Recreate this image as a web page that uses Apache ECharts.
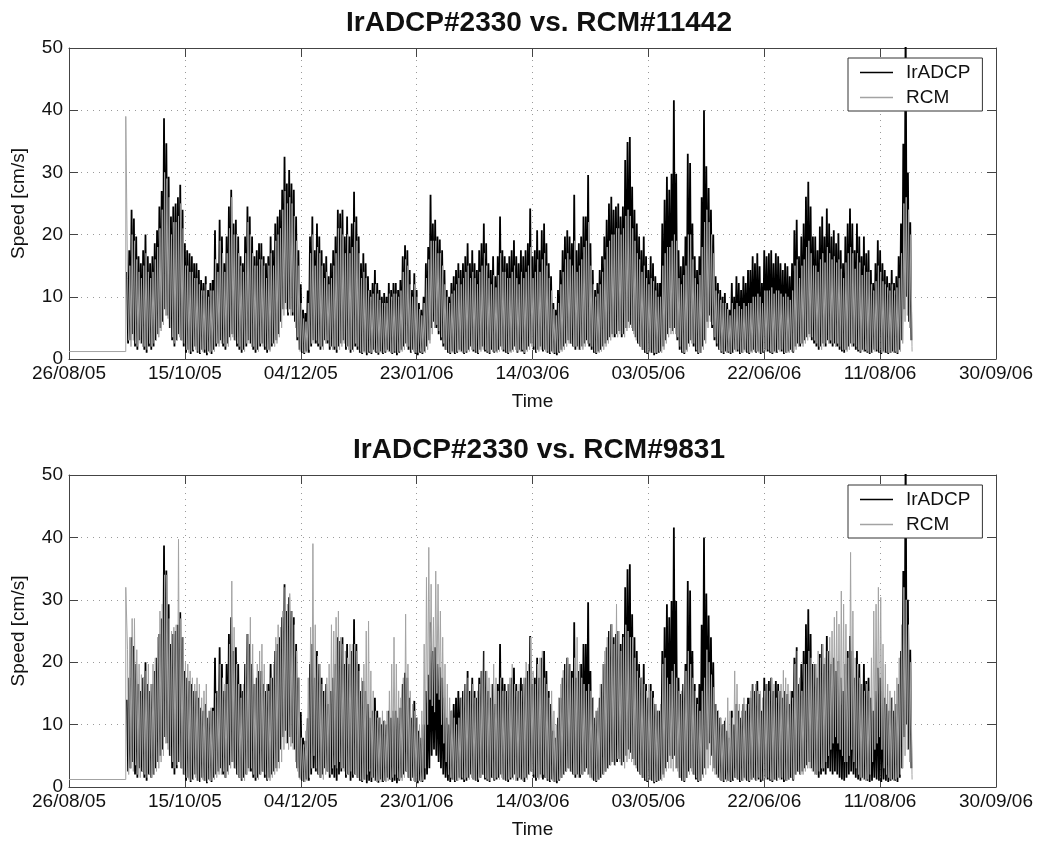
<!DOCTYPE html>
<html><head><meta charset="utf-8">
<script src="https://cdn.jsdelivr.net/npm/echarts@6/dist/echarts.min.js"></script>
<style>html,body{margin:0;padding:0;background:#fff}#c{width:1052px;height:841px}</style>
</head><body><div id="c"></div>
<script>
// x axis: days since 26/08/05, ticks every 50 days
const tickLabels = ['26/08/05','15/10/05','04/12/05','23/01/06','14/03/06','03/05/06','22/06/06','11/08/06','30/09/06'];
const titles = ['IrADCP#2330 vs. RCM#11442', 'IrADCP#2330 vs. RCM#9831'];
const seriesNames = ['IrADCP', 'RCM'];
const firstDay = 25;          // day of the first daily envelope value
const startDay = 24.5;        // RCM record starts
const endDay = 363.8;         // RCM record ends
const rcmPreValue = 1.2;      // flat value before deployment
const rcm1StartSpike = 39;
const rcm2StartSpike = 32;
const rcmEndValue = 1.2;

// IrADCP daily high / low envelope (d25 .. d363)
const irHi = [
14,17.5,24,22.6,19.7,16.5,15.4,17.5,20,16.5,
15.4,16.5,18.6,20.7,24.5,27,38.7,34.7,29.3,22.9,
24.5,25,26,28,24,18.6,17.5,17,16.5,15.4,
15.4,14.3,12.7,12.2,13.3,11.1,12.2,12.7,20.7,15.4,
22.4,19.7,15.4,19.7,24.5,27.2,21.8,22.4,19.7,16.5,
15.4,19.7,24.5,22.9,19.7,16.5,17.5,18.6,18.6,16.5,
15.4,16.5,19.7,17.5,21.8,22.9,24,27.2,32.5,28.2,
30.4,28.2,27.2,22.9,17.5,12,7.9,7.4,11,19.7,
22.9,
17.5,21.8,19.7,17.5,15.4,16.5,13.3,15.4,17.5,19.7,
24,23.4,24,19.7,22.9,19.7,21.8,26.9,22.9,19.7,
15.4,17,15.4,13.3,11.1,12.2,14.3,12.2,11.1,10,
10.6,10,12.2,11.1,12.2,12.2,11.1,12.7,16.5,18.3,
17.5,14.3,11.1,13.8,11.1,9,7.9,10,15.4,18,
26.4,21.8,22.4,19.7,19.2,17.5,14.3,11.1,10,12.2,
13.3,14.3,15.4,14.3,15.4,16.5,18.6,15.4,17.5,15.4,
14.3,17.5,18.6,21.8,18.6,15.4,14.3,16.5,13.3,16.5,
22.9,17.5,16.5,15.4,
16.5,17.5,19.1,16.5,15.4,17.5,16.5,17.5,18.6,24.2,
16.5,17.5,20.7,17.5,20.7,21.8,18.6,15.4,13.3,9,
7.9,11.1,14.3,17.5,19.7,20.7,19.7,18.6,26.4,17.5,
18.6,19.7,22.9,22.9,29.6,18.6,14.3,11.1,12.2,14.3,
16.5,19.7,22.4,25,26.1,24,24.5,25,22.9,24.5,
32,34.9,35.7,27.7,24,21.8,19.7,17.5,19.7,16.5,
14.3,16.5,15.4,13.3,12.2,12.2,21.8,25.6,29.3,27.2,
29.8,41.6,29.8,17.5,14.9,16.5,19.7,33,31.5,21.8,
16.5,14.3,16.5,26,40,
31,27.5,24,20,
13.3,12.2,11.1,10,10.6,9,7.9,12.2,10,13.3,
12.2,11.1,13.3,12.2,14.3,14.3,16.5,15.4,17,14.9,
12.2,17.5,16.5,17,17.5,15.4,17,16.5,15.4,14.3,
15.4,14.9,13.3,15.4,20.7,22.4,16.5,19.7,21.8,26.1,
28.5,24.5,19.7,19.7,17.5,21.3,22.9,19.7,24.2,21.8,
19.7,20.7,18.6,20.2,17.5,15.4,19.7,21.8,24.2,21.8,
17.5,21.8,19.7,16.5,19.7,17,17.5,14.3,12.2,15.4,
19.1,17.5,15.4,14.3,13.3,12.2,14.3,12.2,13.3,16.5,
21.8,34.6,55,30,22];
const irLo = [
2.5,3,4,2,1.5,3,2.5,1.5,1,2,
1.5,2,3,4,5,6,8,7,5,3,
2,3,4,3,2,1,1.5,0.8,1.2,2,
1,0.8,1.5,1,0.6,1.2,0.8,1.5,2,2.5,
3,2,1.5,2.5,3.5,4,3,2,1.5,1,
1.5,2,3,2.5,1.5,1,1.5,2,2.5,1.5,
1,1.5,2,2.5,3,4,6,8,9,7,
8,7,6,3,1.5,1,0.8,1.2,1,2,
3,2.5,2,1.5,2,3,2.5,1.5,2,1.5,
1,2,2.5,3,1.5,2,1,1.5,2,1.5,
1,0.8,1.2,0.6,1,0.8,1.5,1,0.7,1.2,
0.8,1,1.5,1.2,0.8,1,0.6,1,1.5,2,
2.5,1.5,1,1.5,0.8,0.6,1,0.8,1.2,2,
3,5,6,5,4,3,2,1.5,1,0.8,
1.2,0.8,1,1.5,1.2,0.8,1,1.5,2,1.2,
1,0.8,1.5,2,1.2,1,0.8,1.5,1,1.2,
1.5,2,1.2,1,0.8,1.2,1.5,2,1,1.5,
1.2,0.8,1.5,2,2.5,1.5,1,1.5,2,1.2,
1.5,1,0.8,1.2,0.8,0.6,1,1.5,2,2.5,
3,2.5,2,1.5,2,1.5,2,2.5,3,2,
1.5,1,0.8,1.2,1.5,2,2.5,3,3.5,4,
3.5,4,4.5,3.5,4,5,6,5.5,4.5,3.5,
2.5,2,1.5,1,0.8,1.2,1,0.6,0.8,1,
1.2,2,3,4,5,4.5,5,3,1.5,1,
0.8,1.5,2.5,3,2,1.2,0.8,1,2,3,
6,7,5,3,2,1.5,1,0.8,1.2,1,
0.8,1,1.5,1.2,0.8,1,1.5,1,0.8,1.2,
1.5,1,1.2,0.8,1,1.5,1.2,1,0.8,1.2,
1,1.5,1.2,0.8,1,1.2,1.5,1,2,2.5,
2,2.5,3,3.5,4,3,2.5,2,1.5,2,
2.5,2,3,2.5,2,2.5,2,1.5,1.2,1,
1.5,2,2.5,2,1.5,1.2,1,1.5,1.2,1,
0.8,1,1.5,1.2,1,0.8,1.2,1,0.8,1,
1.2,1,0.8,1.5,3,8,10,6,3];

// RCM#11442 daily high / low envelope
const rcm1Hi = [
13,15,20,19,16,14,13,15,17,14,
13,14,16,18,21,24,30,29,26,20,
22,22,23,25,21,15,15,14,14,13,
13,12,11,11,12,10,11,11,16,14,
19,17,14,17,21,26,20,20,17,15,
14,17,22,20,17,15,15,16,16,15,
13,15,17,15,19,20,21,24,27,25,
26,25,23,19,15,9,6.5,6,9,17,
20,
15,18,17,15,13,14,12,13,15,17,
21,21,20,17,20,17,18,22,19,17,
13,14,13,11,10,10.5,12,10.5,9.5,9,
9,9,10.5,10,10.5,10.5,10,11,14,16,
15,12,10,12,10,8,7,9,13,16,
19,19,19,17,17,15,12,10,9,10.5,
11,12,13,12,13,14,15,13,14,13,
12,14,15,17,15,13,12,13.5,11.5,13.5,
17,14,14,13,
13,14,15,13,12,14,13,14,15,18,
13,14,16,14,16,17,15,13,11,8,
7,9,12,14,16,17,16,15,19,14,
15,16,18,19,22,15,12,10,10.5,12,
14,16,18,19,20,20,21,21,20,21,
23,24,23,21,19,17,16,14,15,13,
12,13,12.5,11,10,10,15,17,18,18,
19,20,19,13,12,13.5,15,20,20,16,
13,12,13.5,18,22,
24,22,20,17,
11,10.5,9.5,9,9,8,7,9,8,9,
8.5,8,9,8.5,9,9,10,10,10.5,10,
9,11,11,11,11.5,10.5,11,11,10.5,10,
10.5,10,9.5,11,15,16,13,15,16,18,
19,17,15,15,14,16,17,15.5,18,17,
16,16.5,15.5,16,14.5,13,15.5,17,18,17,
14.5,17,15.5,13.5,15,14,14,12,11,12.5,
15,14,12.5,12,11.5,11,12,11,11.5,13,
17,25,26,24,20];
const rcm1Lo = [
3,2,3,2.5,2,2.5,2,2,1.5,2.5,
2,2.5,3,3.5,4.5,5.5,7,6.5,5,3.5,
2.5,3,3.5,3,2.5,1.5,1,1.2,1.5,1.5,
1.2,1,1.2,1.5,1,1,1.2,1.2,2.5,2,
2.5,2.5,2,2,3,3.5,3,2.5,2,1.5,
1.2,2.5,2.5,2,2,1.5,1.2,2.5,2,2,
1.5,1.2,2.5,2,2.5,3.5,5,7,8,7.5,
7,7.5,5,3.5,1.2,1.2,1,1,1.5,2.5,
2.5,3,2.5,2,1.5,2.5,3,2,1.5,2,
1.5,1.5,2,2.5,2,1.5,1.5,1.2,2.5,2,
1.2,1,1,1,1.2,1,1.2,1.2,1,1,
1,1.2,1.2,1,1,1.2,1,1.2,1.2,1.5,
2,2,1.2,1.2,1,1,1.2,1,1,1.5,
2.5,4,5,5.5,4.5,3.5,2.5,1.5,1.2,1,
1,1,1.2,1.2,1,1,1.2,1.2,1.5,1.5,
1.2,1,1.2,1.5,1.5,1.2,1,1.2,1.2,1,
1.2,1.5,1.5,1.2,1,1,1.2,1.5,1.2,1.2,
1.5,1,1.2,1.5,2,2,1.2,1.2,1.5,1.5,
1.2,1.2,1,1,1,1,1.2,1.2,1.5,2,
2.5,2.5,2,2,1.5,1.5,1.5,2,2.5,2.5,
2,1.2,1,1,1.2,1.5,2,2.5,3,3.5,
4,3.5,4,4,3.5,4.5,5,5,4,3,
2.5,2,1.5,1.2,1,1,1,1,1,1.2,
1,1.5,2.5,3.5,4,4,4,3.5,2,1.2,
1,1.2,2,2.5,2.5,1.5,1,1,1.5,2.5,
5,6,5.5,3.5,2.5,1.5,1.2,1,1,1.2,
1,1,1.2,1.5,1,1,1.2,1.2,1,1,
1.2,1.2,1,1,1.2,1.2,1.5,1.2,1,1,
1.2,1.2,1.5,1,1,1,1.2,1.2,1.5,2,
2.5,2,2.5,3,3.5,3.5,3,2.5,2,1.5,
2,2.5,2.5,3,2.5,2,2.5,2,1.5,1.5,
1.2,1.5,2,2.5,2,1.5,1.2,1.2,1.5,1.2,
1,1,1.2,1.5,1.2,1,1,1.2,1,1,
1,1.2,1,1.2,2.5,6,7,5,2];

// RCM#9831 daily high / low envelope
const rcm2Hi = [
22,24,27,27,22,19.7,18,17.5,18.6,19.7,
16.5,19.7,20.7,24,28.2,29.3,34,34,27,25,
25.6,26,39.7,27,24,20,19.7,18.6,17.5,16.5,
17.5,16.5,14.3,15.4,16.5,12.2,12.7,12.2,15,15.4,
19.7,17.5,16.5,16.5,22.9,33,25.6,19.7,16.5,14.3,
16.5,19.7,24.5,27.2,22.9,16.5,19.7,21.8,22.9,19.7,
16.5,15.4,17.5,19.7,24,26,25.6,28.2,32,29.3,
31,28.2,26,21.8,17.5,7.9,6.8,9,17.5,25.6,
39,
26,21,19.7,16.5,15.4,17.5,19.7,26,25,27.2,
28.2,24,22.9,21.8,20.7,22.9,22.9,22.9,21.8,18.6,
17.5,19.7,25,26.6,18.6,15.4,12.2,11.1,11.1,12.2,
10.6,12.2,15.4,19.7,24,19.7,15.4,14.3,17.5,27.7,
19.7,15.4,13.3,12.2,11.1,10,12.2,22.9,33.6,38.4,
32.5,27.2,34.6,32.5,28.2,24,19.7,16.5,14.3,12.2,
11.1,10,11.1,14.3,15.4,16.5,17.5,15.4,16.5,14.3,
15.4,16.5,18.6,21.8,18.6,17.5,16.5,19.7,17.5,15.4,
17.5,15.4,15.4,16.5,
17.5,19.7,16.5,15.4,16.5,15.4,17.5,20,19.7,24,
18.6,16.5,19.7,20.7,21.8,17.5,16.5,14.3,15.4,12.2,
10,14.3,16.5,18.7,19.7,20.7,19.7,17.5,20.7,24,
19.7,17.5,16.5,15.4,16.5,15.4,14.3,12.2,12.7,16.5,
19.7,21.8,24,25,26.1,22.9,29.3,25,21.8,24,
26,25,24,24,20.7,18.6,17.5,17.5,16.5,15.4,
16.5,15.4,14.3,13.3,12.2,13.3,19.7,20.7,17.5,16.5,
18.6,19.7,17.5,15.4,15.4,16.5,18.6,21.8,19.7,17.5,
15.4,13.3,12.2,15.4,17.5,
22,20,18,16,
13.3,12.2,11.1,10,11.1,14.3,12.2,11.1,18.6,16.5,
13.3,12.2,14.3,13.3,13.3,15.4,16.5,16.5,15.4,15.4,
14.3,15.4,16.5,15.4,17.5,16.5,14.3,15.4,16.5,18.7,
17.5,16.5,15.4,14.3,19.7,21.8,17.5,15.4,19.7,19.7,
21.8,20.7,19.7,19.7,21.8,20.7,22.9,20.7,21.8,24,
25,27.2,28.2,26.1,31.4,29.3,26.1,20.7,37.6,28.2,
20.7,19.7,17.5,16.5,15.4,16.5,15.4,20.7,28.2,29.3,
32,30.4,22.9,19.7,16.5,15.4,14.3,15.4,17.5,20.7,
26,32,30,26,20];
const rcm2Lo = [
2,3,2.5,3.5,2,1.5,2.5,2,1.5,2,
1.5,2,2.5,3,4,5,7,6,5,4,
3,3.5,4,3,2,1.5,1.2,1,1.2,1.5,
1,0.8,1.2,1,0.8,1,1,1.2,1.5,2,
2,2.5,1.5,2,3,4,3,2,1.5,1.2,
1,2,2.5,3,2,1.5,1.2,2,2.5,2,
1.2,1,1.5,2,2.5,3,4,6,7,6,
6.5,6,4,2.5,1.2,1,0.8,1,1.5,3,
5,3,2,1.5,1.2,2,2.5,2,3,3.5,
3,4,3,2.5,2,2,2.5,2,2,1.5,
1.2,1,1.2,2,2.5,1.5,1,0.8,1,0.8,
1,0.8,1,1.2,1.5,2,1.5,1.2,1,1.5,
2.5,1.5,1.2,1,0.8,1,0.8,1,3,10,
14,13,12,15,14,10,7,4,2,1.5,
1.2,1,1,1.2,1.5,1.2,1.5,1.2,1.5,1.2,
1,1.2,1.5,2,1.5,1.2,1,1.5,1.2,1.5,
1.2,1.5,1.2,1,1.2,1.5,1.2,1,1.5,1.2,
1,1.5,1.2,2,2.5,2,1.5,1.2,1.5,2,
1.5,1.2,1,1,0.8,1,1.2,1.5,2,2.5,
3,2.5,2,2,1.5,2,2,2.5,2,1.5,
1.2,1,1,1.2,1.5,2,2.5,3,3.5,4,
3.5,4.5,4,3.5,3,4,4.5,4,3.5,3,
2.5,2,1.5,1.2,1,1.2,1,0.8,1,1,
1,1.5,2.5,3,3,2.5,3,2.5,1.5,1,
1,1.5,2,2.5,2,1.5,1,1,1.5,2,
3,3.5,2.5,2,1.5,1.2,1,1,0.8,1,
1,1.2,1.5,1.2,1,1,1.2,1,1,1.2,
1.2,1,1.5,1.2,1,1.2,1.5,1.2,1,1.2,
1,1.2,1.5,1.2,1,1.2,1.5,1.2,2,2.5,
2,2,2.5,3,3,2.5,2,2,2.5,3,
3,4,5,6,7,8,7,6,5,4,
4,5,6,4,3,2,1.5,1.2,1,1.2,
2,4,6,7,8,6,3,2,1.5,1.2,
1,1.2,1.5,2,3,5,6,4,2];

// ---- build series data from the arrays ----
function zig(hi, lo, phase) {
  const out = [];
  for (let i = 0; i < hi.length; i++) {
    const d = firstDay + i;
    out.push([d + phase, hi[i]]);
    if (lo[i] !== undefined) out.push([d + phase + 0.5, lo[i]]);
  }
  return out;
}
function rcmData(hi, lo, spike) {
  return [[0, rcmPreValue], [startDay, rcmPreValue], [startDay, spike]]
    .concat(zig(hi, lo, 0.25))
    .concat([[endDay, rcmEndValue]]);
}
const irData = zig(irHi, irLo, 0);
const rcm1Data = rcmData(rcm1Hi, rcm1Lo, rcm1StartSpike);
const rcm2Data = rcmData(rcm2Hi, rcm2Lo, rcm2StartSpike);

const F = '"Liberation Sans", Arial, Helvetica, sans-serif';
const AX = '#444';
const BLACK = '#000000', GRAY = '#a3a3a3';

const grids = [
  {left: 69, top: 48, width: 927, height: 311},
  {left: 69, top: 475, width: 927, height: 312}
];

const xAxes = [], yAxes = [];
grids.forEach((g, gi) => {
  xAxes.push({
    type: 'value', gridIndex: gi, min: 0, max: 400, interval: 50, position: 'bottom',
    name: 'Time', nameLocation: 'middle', nameGap: 33,
    nameTextStyle: {fontSize: 19, color: '#111', fontFamily: F},
    axisLine: {show: true, onZero: false, lineStyle: {color: AX, width: 1}},
    axisTick: {show: true, inside: true, length: 9, lineStyle: {color: AX}},
    axisLabel: {formatter: v => tickLabels[Math.round(v / 50)], fontSize: 19, color: '#111', margin: 5, fontFamily: F},
    splitLine: {show: true, lineStyle: {color: '#9a9a9a', width: 1, type: [1, 5]}}
  });
  xAxes.push({
    type: 'value', gridIndex: gi, min: 0, max: 400, interval: 50, position: 'top',
    axisLine: {show: true, onZero: false, lineStyle: {color: AX, width: 1}},
    axisTick: {show: true, inside: true, length: 9, lineStyle: {color: AX}},
    axisLabel: {show: false}, splitLine: {show: false}
  });
  yAxes.push({
    type: 'value', gridIndex: gi, min: 0, max: 50, interval: 10, position: 'left',
    name: 'Speed [cm/s]', nameLocation: 'middle', nameGap: 41, nameRotate: 90,
    nameTextStyle: {fontSize: 19, color: '#111', fontFamily: F},
    axisLine: {show: true, onZero: false, lineStyle: {color: AX, width: 1}},
    axisTick: {show: true, inside: true, length: 9, lineStyle: {color: AX}},
    axisLabel: {fontSize: 19, color: '#111', margin: 6, fontFamily: F},
    splitLine: {show: true, lineStyle: {color: '#9a9a9a', width: 1, type: [1, 5]}}
  });
  yAxes.push({
    type: 'value', gridIndex: gi, min: 0, max: 50, interval: 10, position: 'right',
    axisLine: {show: true, onZero: false, lineStyle: {color: AX, width: 1}},
    axisTick: {show: true, inside: true, length: 9, lineStyle: {color: AX}},
    axisLabel: {show: false}, splitLine: {show: false}
  });
});

function lineSeries(name, data, gi, color, width) {
  return {
    name: name, type: 'line', data: data, xAxisIndex: gi * 2, yAxisIndex: gi * 2,
    showSymbol: false, symbol: 'none', color: color, silent: true, clip: true,
    lineStyle: {color: color, width: width, join: 'miter', miterLimit: 2}, z: 3
  };
}

const legendBase = {
  orient: 'vertical', left: 848, icon: 'rect', itemWidth: 33, itemHeight: 1.5, itemGap: 6,
  padding: [5, 12, 4, 12], borderColor: '#333', borderWidth: 1, backgroundColor: '#fff',
  textStyle: {fontSize: 19, color: '#111', fontFamily: F, padding: [0, 0, 0, 8]},
  data: seriesNames, selectedMode: false, z: 10
};

const option = {
  animation: false,
  backgroundColor: '#fff',
  title: [
    {text: titles[0], left: 534, top: 4, textAlign: 'center',
     textStyle: {fontSize: 28, fontWeight: 'bold', color: '#111', fontFamily: F}},
    {text: titles[1], left: 534, top: 431, textAlign: 'center',
     textStyle: {fontSize: 28, fontWeight: 'bold', color: '#111', fontFamily: F}}
  ],
  legend: [Object.assign({}, legendBase, {top: 58}), Object.assign({}, legendBase, {top: 485})],
  grid: grids,
  xAxis: xAxes,
  yAxis: yAxes,
  series: [
    lineSeries(seriesNames[0], irData, 0, BLACK, 1.8),
    lineSeries(seriesNames[1], rcm1Data, 0, GRAY, 1.0),
    lineSeries(seriesNames[0], irData, 1, BLACK, 1.8),
    lineSeries(seriesNames[1], rcm2Data, 1, GRAY, 1.0)
  ]
};
const chart = echarts.init(document.getElementById('c'), null, {renderer: 'canvas'});
chart.setOption(option);
</script>
</body></html>
